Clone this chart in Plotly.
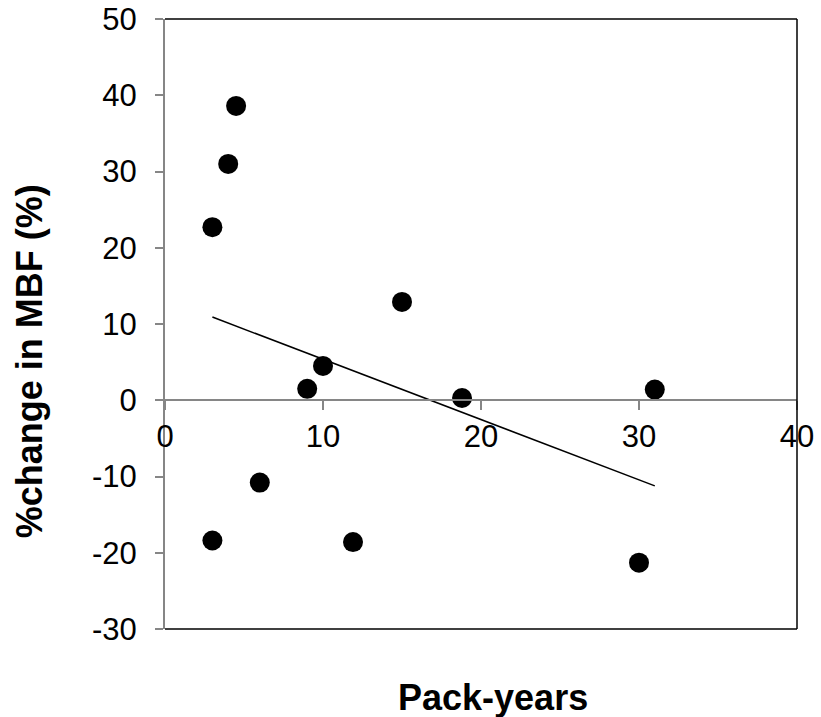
import numpy as np
import plotly.graph_objects as go

pack_years = [3, 4, 4.5, 3, 6, 9, 10, 11.9, 15, 18.8, 31, 30]
mbf_change = [22.7, 31.0, 38.6, -18.4, -10.8, 1.5, 4.5, -18.6, 12.9, 0.3, 1.4, -21.3]
x_ticks = [0, 10, 20, 30, 40]
y_ticks = [-30, -20, -10, 0, 10, 20, 30, 40, 50]
x_title = "Pack-years"
y_title = "%change in MBF (%)"

xr = [0, 40]
yr = [-30, 50]

slope, intercept = np.polyfit(pack_years, mbf_change, 1)
fit_x = np.array([min(pack_years), max(pack_years)])
fit_y = slope * fit_x + intercept

FONT = "Liberation Sans, Arial, sans-serif"
GRAY = "#868686"

fig = go.Figure()
fig.add_trace(go.Scatter(x=fit_x, y=fit_y, mode="lines",
                         line=dict(color="black", width=1.5), showlegend=False))
fig.add_trace(go.Scatter(x=pack_years, y=mbf_change, mode="markers",
                         marker=dict(color="black", size=20), showlegend=False))

zero_pos = (0 - yr[0]) / (yr[1] - yr[0])

fig.update_layout(
    width=821, height=717,
    margin=dict(l=165, r=24, t=19, b=88, autoexpand=False),
    paper_bgcolor="white", plot_bgcolor="white",
    font=dict(family=FONT, color="black", size=31),
    xaxis=dict(range=xr, tickvals=x_ticks, ticktext=[str(v) for v in x_ticks],
               showgrid=False, zeroline=False, automargin=False,
               showline=True, linecolor=GRAY, linewidth=2,
               ticks="outside", ticklen=9, tickcolor=GRAY, tickwidth=1.5,
               ticklabelstandoff=0,
               anchor="free", position=zero_pos,
               tickfont=dict(size=31, family=FONT, color="black")),
    yaxis=dict(range=yr, tickvals=y_ticks, ticktext=[str(v) for v in y_ticks],
               showgrid=False, zeroline=False, automargin=False,
               showline=True, linecolor=GRAY, linewidth=2,
               ticks="outside", ticklen=8, tickcolor=GRAY, tickwidth=1.5,
               ticklabelstandoff=12,
               tickfont=dict(size=31, family=FONT, color="black")),
    shapes=[
        dict(type="line", xref="paper", yref="paper", x0=0, x1=1, y0=1, y1=1,
             line=dict(color="black", width=1.5)),
        dict(type="line", xref="paper", yref="paper", x0=1, x1=1, y0=0, y1=1,
             line=dict(color="black", width=1.5)),
        dict(type="line", xref="paper", yref="paper", x0=0, x1=1, y0=0, y1=0,
             line=dict(color="black", width=1.5)),
    ],
    annotations=[
        dict(text="<b>%s</b>" % x_title, xref="paper", yref="paper",
             x=0.519, y=-0.1115, xanchor="center", yanchor="middle", showarrow=False,
             font=dict(size=36, family=FONT, color="black")),
        dict(text="<b>%s</b>" % y_title, xref="paper", yref="paper",
             x=-0.215, y=0.439, xanchor="center", yanchor="middle", showarrow=False,
             textangle=-90, font=dict(size=36, family=FONT, color="black")),
    ],
)

fig.write_html("out.html")
